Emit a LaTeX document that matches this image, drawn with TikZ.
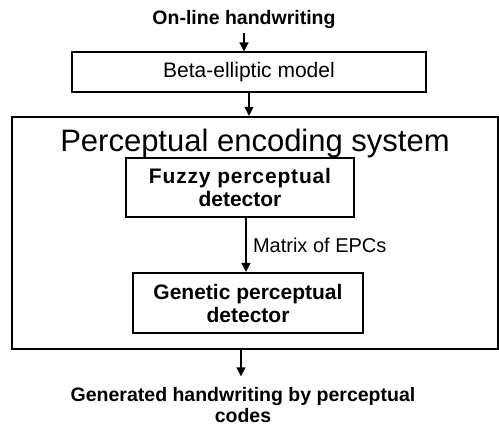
\documentclass[tikz,border=0pt]{standalone}
\usepackage{fontspec}
\setmainfont{Liberation Sans}
\usetikzlibrary{arrows.meta}

\begin{document}
\begin{tikzpicture}[x=1pt, y=-1pt, >={Triangle[width=9pt,length=9pt]}, line width=1.4pt,
  thinbox/.style={draw=black, line width=1.1pt, inner sep=0pt},
  thickbox/.style={draw=black, line width=2.2pt, inner sep=0pt, align=center, font=\fontsize{21}{23}\selectfont\bfseries},
  bigbox/.style={draw=black, line width=2.4pt, inner sep=0pt}]
        \useasboundingbox (0,0) rectangle (499,428);

        \node(online) at (244,20) {\fontsize{19.5}{21}\selectfont\bfseries On-line handwriting};
        \node(beta) [thinbox, minimum width=354pt, minimum height=40pt] at (249,72) {\fontsize{21}{23}\selectfont Beta-elliptic model};
        \node(system) [bigbox, minimum width=486pt, minimum height=232pt] at (255,233) {};
        \node(title) at (255,143) {\fontsize{31}{34}\selectfont Perceptual encoding system};
        \node(fuzzy) [thickbox, minimum width=228pt, minimum height=59pt] at (240,187.5) {\addfontfeature{LetterSpace=4}Fuzzy perceptual\\detector};
        \node(genetic) [thickbox, minimum width=230pt, minimum height=60pt] at (248,303) {Genetic perceptual\\detector};
        \node(result) [align=center, font=\fontsize{19.5}{21}\selectfont\bfseries] at (243,405) {Generated handwriting by perceptual\\codes};

        \draw[->] (online.south) -- (online.south |- beta.north);
        \draw[->] (beta.south) -- (beta.south |- system.north);
        \draw[->] ([xshift=6pt]fuzzy.south) -- ([xshift=6pt]fuzzy.south |- genetic.north)
          node[midway, right, xshift=3pt, font=\fontsize{20}{22}\selectfont] {Matrix of EPCs};
        \draw[->] ([xshift=-14pt]system.south) -- ([xshift=-14pt,yshift=7pt]system.south |- result.north);
\end{tikzpicture}
\end{document}
